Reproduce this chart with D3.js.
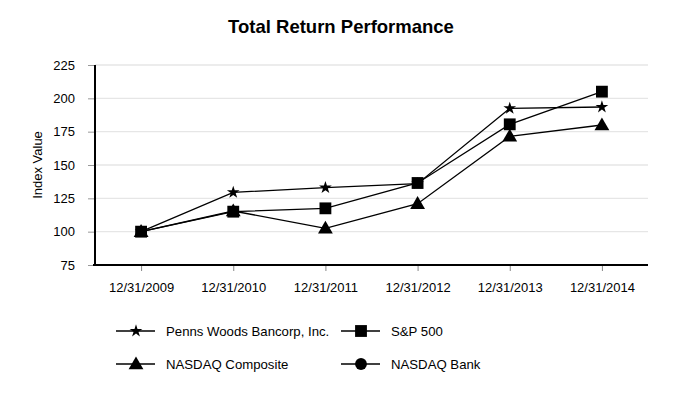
<!DOCTYPE html>
<html><head><meta charset="utf-8">
<script src="https://cdn.jsdelivr.net/npm/d3@7"></script>
<style>body{margin:0;background:#fff}svg{display:block}text{font-family:"Liberation Sans",Arial,sans-serif}</style>
</head><body><svg id="c" width="682" height="400"></svg>
<script>
const categories = ["12/31/2009","12/31/2010","12/31/2011","12/31/2012","12/31/2013","12/31/2014"];
const pennsWoods = [100, 129.5, 133, 136, 192.5, 193.5];
const sp500 = [100, 115, 117.5, 136.5, 180.5, 205];
const nasdaqComposite = [100, 115.5, 102.5, 121, 171.5, 180];
const nasdaqBank = [null, null, null, null, null, null];
const yTicks = [75,100,125,150,175,200,225];
const seriesNames = ["Penns Woods Bancorp, Inc.","S&P 500","NASDAQ Composite","NASDAQ Bank"];
const seriesSymbols = ["star","square","triangle","circle"];

const svg = d3.select("#c");
const L=95, R=648, T=65, B=265;
const x = d3.scalePoint().domain(categories).range([L,R]).padding(0.5);
const y = d3.scaleLinear().domain([75,225]).range([B,T]);

svg.append("text").attr("x",341).attr("y",33).attr("text-anchor","middle")
  .attr("font-size",18.5).attr("font-weight","bold").text("Total Return Performance");

// grid
svg.append("g").selectAll("line").data(yTicks.slice(1)).join("line")
  .attr("x1",L).attr("x2",R).attr("y1",d=>y(d)).attr("y2",d=>y(d))
  .attr("stroke","#e6e6e6").attr("stroke-width",1.3);

// y axis
const ya = svg.append("g").attr("transform",`translate(${L},0)`)
  .call(d3.axisLeft(y).tickValues(yTicks).tickSize(7).tickPadding(13));
ya.select(".domain").remove();
ya.selectAll(".tick line").attr("stroke","#999");
ya.selectAll("text").attr("font-size",13).attr("fill","#000").attr("font-family","Liberation Sans, Arial, sans-serif");
svg.append("line").attr("x1",L).attr("x2",L).attr("y1",T).attr("y2",B+1).attr("stroke","#000").attr("stroke-width",2);

// x axis
const xa = svg.append("g").attr("transform",`translate(0,${B})`)
  .call(d3.axisBottom(x).tickSize(6).tickPadding(12));
xa.select(".domain").remove();
xa.selectAll(".tick line").attr("stroke","#888");
xa.selectAll("text").attr("font-size",13).attr("fill","#000").attr("font-family","Liberation Sans, Arial, sans-serif");
svg.append("line").attr("x1",L-2).attr("x2",R).attr("y1",B).attr("y2",B).attr("stroke","#000").attr("stroke-width",2);

svg.append("text").attr("transform","translate(42,165) rotate(-90)").attr("text-anchor","middle")
  .attr("font-size",13).text("Index Value");

const symMap = {star:d3.symbolStar, square:d3.symbolSquare, triangle:d3.symbolTriangle, circle:d3.symbolCircle};
const symSize = {star:50, square:140, triangle:95, circle:110};
const sym = s => d3.symbol().type(symMap[s]).size(symSize[s])();

const allSeries = [pennsWoods, sp500, nasdaqComposite, nasdaqBank];
const line = d3.line().defined(d=>d!=null).x((d,i)=>x(categories[i])).y(d=>y(d));
allSeries.forEach((vals,k)=>{
  svg.append("path").datum(vals).attr("d",line).attr("fill","none").attr("stroke","#000").attr("stroke-width",1.3);
});
allSeries.forEach((vals,k)=>{
  svg.append("g").selectAll("path").data(vals.map((v,i)=>({v,i})).filter(d=>d.v!=null)).join("path")
    .attr("d",sym(seriesSymbols[k]))
    .attr("transform",d=>`translate(${x(categories[d.i])},${y(d.v) + (seriesSymbols[k]==="triangle"?1:0)})`)
    .attr("fill","#000");
});

// legend
const legPos = [[116,331],[341,331],[116,364],[341,364]];
seriesNames.forEach((n,k)=>{
  const [lx,ly]=legPos[k];
  const g=svg.append("g");
  g.append("line").attr("x1",lx).attr("x2",lx+39).attr("y1",ly).attr("y2",ly).attr("stroke","#000").attr("stroke-width",1.5);
  g.append("path").attr("d",sym(seriesSymbols[k])).attr("transform",`translate(${lx+20},${ly+(seriesSymbols[k]==="triangle"?1:0)})`).attr("fill","#000");
  g.append("text").attr("x",lx+50).attr("y",ly+4.5).attr("font-size",13.2).text(n);
});
</script></body></html>
